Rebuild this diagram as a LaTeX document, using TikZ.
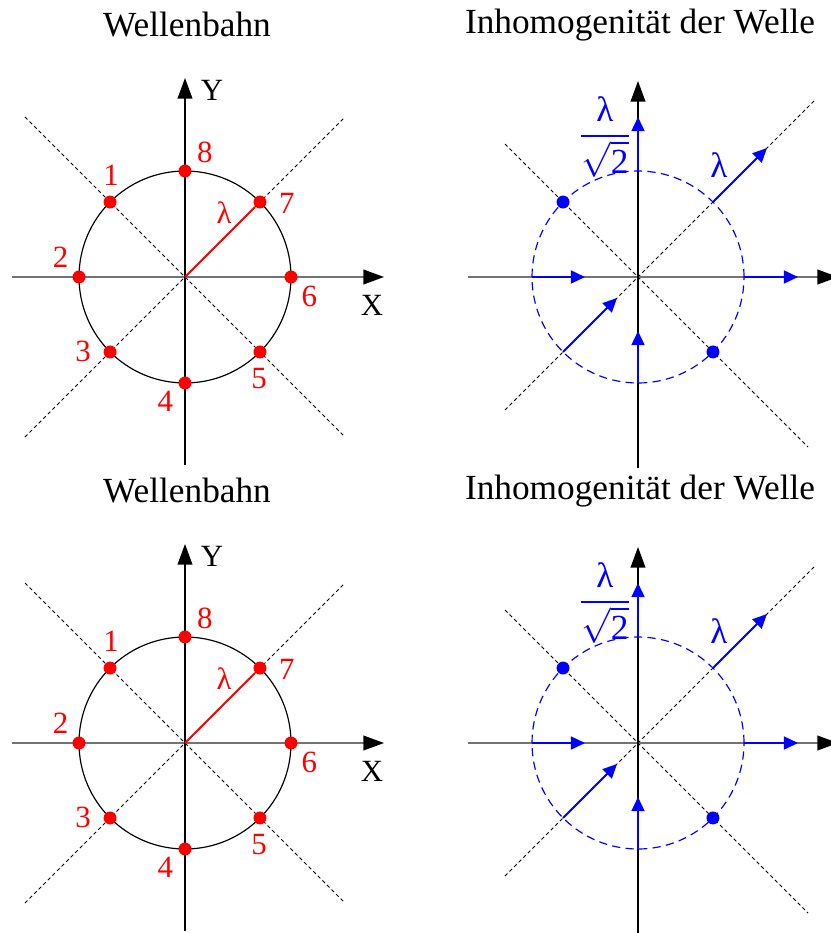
\documentclass[tikz,border=0pt]{standalone}
\usepackage{fontspec}
\setmainfont{Liberation Serif}
\usepackage{amsmath}
\usetikzlibrary{calc,arrows.meta}

\begin{document}
\begin{tikzpicture}[x=0.34pt, y=0.34pt,
  axis/.style={line width=0.5pt, -{Triangle[length=7pt,width=5pt,color=black]}},
  diag/.style={line width=0.35pt, dash pattern=on 1.2pt off 1pt},
  wave/.style={blue, line width=0.7pt, -{Triangle[length=4.8pt,width=4.4pt]}},
  reddot/.style={circle, fill=red, inner sep=0pt, minimum size=4.4pt},
  bluedot/.style={circle, fill=blue, inner sep=0pt, minimum size=4.4pt},
  title/.style={font=\fontsize{12}{14}\selectfont},
  num/.style={red, font=\fontsize{10.5}{12}\selectfont},
  axlab/.style={font=\fontsize{10.5}{12}\selectfont},
  blab/.style={blue, font=\fontsize{12}{14}\selectfont}]
\useasboundingbox (0,0) rectangle (831,-933);
\clip (0,0) rectangle (831,-933);

\foreach \yy/\r in {0/a, -466/b} {
% Wellenbahn
\begin{scope}[shift={(185,\yy-277)}]
\node[title] (tw\r) at (2,252) {Wellenbahn};
\coordinate (o\r) at (0,0);
\coordinate (xl\r) at (-173,0);
\coordinate (xr\r) at (199,0);
\coordinate (yb\r) at (0,-188);
\coordinate (yt\r) at (0,199);
\coordinate (d1\r) at (-160,160);
\coordinate (d2\r) at (160,-160);
\coordinate (d3\r) at (-160,-160);
\coordinate (d4\r) at (160,160);
\draw[diag] (d1\r) -- (d2\r);
\draw[diag] (d3\r) -- (d4\r);
\draw[axis, black!55] (xl\r) -- (xr\r);
\draw[axis] (yb\r) -- (yt\r);
\node[axlab] (xx\r) at (187,-28) {X};
\node[axlab] (yy\r) at (27,187) {Y};
\draw[line width=0.4pt] (o\r) circle[radius=106];
\foreach \n in {1,...,8} {
  \pgfmathsetmacro\a{90+45*\n}
  \node[reddot] (p\n\r) at (\a:106) {};
  \node[num] (n\n\r) at ($(\a:106)+(\a-47:27)$) {\n};
}
\draw[red, line width=0.7pt] (o\r) -- (p7\r);
\node[num] (lam\r) at (39,64) {λ};
\end{scope}

% Inhomogenitaet
\begin{scope}[shift={(638,\yy-277)}]
\node[title] (ti\r) at (2,252) {Inhomogenität der Welle};
\coordinate (c\r) at (0,0);
\coordinate (hl\r) at (-170,0);
\coordinate (hr\r) at (200,0);
\coordinate (vb\r) at (0,-191);
\coordinate (vt\r) at (0,196);
\coordinate (g1\r) at (-133,133);
\coordinate (g2\r) at (170,-170);
\coordinate (g3\r) at (-133,-133);
\coordinate (g4\r) at (177,177);
\draw[diag] (g1\r) -- (g2\r);
\draw[diag] (g3\r) -- (g4\r);
\draw[axis, black!55] (hl\r) -- (hr\r);
\draw[axis] (vb\r) -- (vt\r);
\draw[blue, line width=0.4pt, dash pattern=on 2.8pt off 1.8pt] (c\r) circle[radius=106];
\node[bluedot] (q1\r) at (135:106) {};
\node[bluedot] (q2\r) at (315:106) {};
\foreach \a/\dx/\dy/\k in {90/0/54/1, 270/0/52/2, 180/53/0/3, 0/54/0/4, 45/54/54/5, 225/54/54/6} {
  \coordinate (s\k\r) at (\a:106);
  \coordinate (e\k\r) at ($(s\k\r)+(\dx,\dy)$);
  \draw[wave] (s\k\r) -- (e\k\r);
}
\node[blab, inner sep=0pt] (lq\r) at (-33,140) {$\dfrac{\mbox{λ}}{\sqrt{\mbox{2}}}$};
\node[blab] (lb\r) at (81,112) {λ};
\end{scope}
}
\end{tikzpicture}
\end{document}
